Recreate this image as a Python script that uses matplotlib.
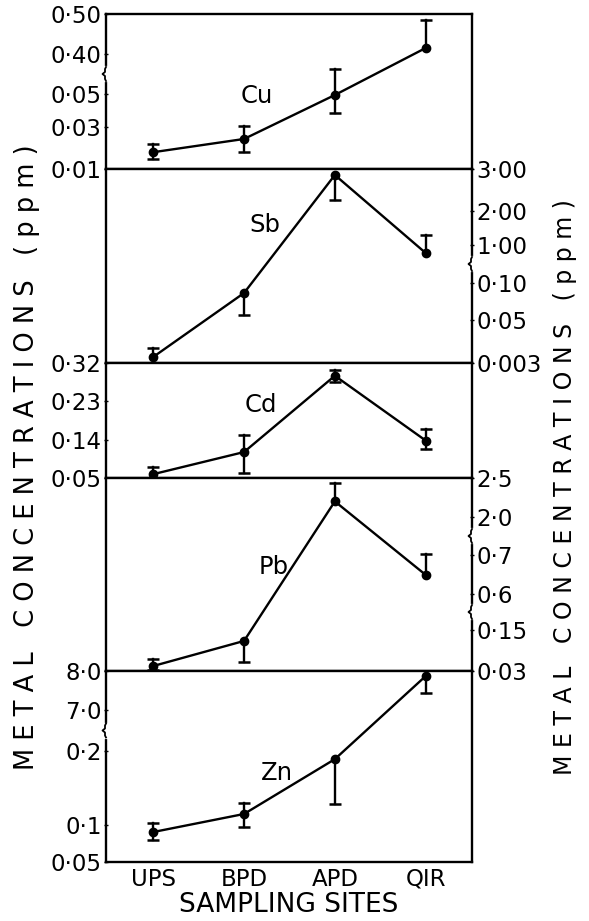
import numpy as np
import matplotlib
matplotlib.use("Agg")
import matplotlib.pyplot as plt
from matplotlib.ticker import NullLocator

# ---------------- data ----------------
sites = ["UPS", "BPD", "APD", "QIR"]

cu_mean = [0.018, 0.0243, 0.0494, 0.415]
cu_low = [0.0148, 0.0181, 0.0385, 0.415]
cu_high = [0.0219, 0.0306, 0.269, 0.485]
cu_ticks = [0.01, 0.03, 0.05, 0.40, 0.50]
cu_ticklabels = ["0·01", "0·03", "0·05", "0·40", "0·50"]

sb_mean = [0.0096, 0.0865, 2.857, 0.81]
sb_low = [0.0096, 0.0568, 2.26, 0.81]
sb_high = [0.0194, 0.0865, 2.857, 1.29]
sb_ticks = [0.003, 0.05, 0.10, 1.00, 2.00, 3.00]
sb_ticklabels = ["0·003", "0·05", "0·10", "1·00", "2·00", "3·00"]

cd_mean = [0.059, 0.111, 0.290, 0.138]
cd_low = [0.050, 0.062, 0.276, 0.117]
cd_high = [0.0756, 0.152, 0.304, 0.164]
cd_ticks = [0.05, 0.14, 0.23, 0.32]
cd_ticklabels = ["0·05", "0·14", "0·23", "0·32"]

pb_mean = [0.0446, 0.118, 2.20, 0.649]
pb_low = [0.034, 0.056, 2.20, 0.649]
pb_high = [0.065, 0.118, 2.44, 0.734]
pb_ticks = [0.03, 0.15, 0.6, 0.7, 2.0, 2.5]
pb_ticklabels = ["0·03", "0·15", "0·6", "0·7", "2·0", "2·5"]

zn_mean = [0.0905, 0.1149, 0.189, 7.87]
zn_low = [0.0797, 0.0973, 0.128, 7.44]
zn_high = [0.1026, 0.1297, 0.189, 7.87]
zn_ticks = [0.05, 0.1, 0.2, 7.0, 8.0]
zn_ticklabels = ["0·05", "0·1", "0·2", "7·0", "8·0"]

metals = ["Cu", "Sb", "Cd", "Pb", "Zn"]
y_label = "METAL CONCENTRATIONS (ppm)"
x_label = "SAMPLING SITES"

# ---------------- layout (pixels) ----------------
W, H = 589, 921
AX_L, AX_R = 106, 472
tops = [14, 169, 363, 478, 671]
bottoms = [169, 363, 478, 671, 862]
# tick positions (pixels above panel bottom) of the broken axes
tick_pos = [
    [0, 42, 75, 115, 155],
    [0, 43, 80, 118, 152, 194],
    [0, 38.3, 76.7, 115],
    [0, 41, 77, 116, 154, 193],
    [0, 37, 111, 152, 191],
]
sides = ["left", "right", "left", "right", "left"]
breaks = [[2], [2], [], [1, 3], [2]]   # break between tick i and i+1
name_xy = [(0.413, 0.471), (0.434, 0.711), (0.423, 0.635),
           (0.459, 0.539), (0.467, 0.466)]

panels = [
    (cu_mean, cu_low, cu_high, cu_ticks, cu_ticklabels),
    (sb_mean, sb_low, sb_high, sb_ticks, sb_ticklabels),
    (cd_mean, cd_low, cd_high, cd_ticks, cd_ticklabels),
    (pb_mean, pb_low, pb_high, pb_ticks, pb_ticklabels),
    (zn_mean, zn_low, zn_high, zn_ticks, zn_ticklabels),
]

plt.rcParams["font.family"] = ["DejaVu Sans"]
fig = plt.figure(figsize=(W / 100, H / 100), dpi=100)
LW = 1.7

for k, (mean, low, high, ticks, tlabels) in enumerate(panels):
    t, b = tops[k], bottoms[k]
    ax = fig.add_axes([AX_L / W, 1 - b / H, (AX_R - AX_L) / W, (b - t) / H])
    pos = tick_pos[k]

    def fwd(v, ticks=ticks, pos=pos):
        return np.interp(v, ticks, pos)

    def inv(p, ticks=ticks, pos=pos):
        return np.interp(p, pos, ticks)

    ax.set_yscale("function", functions=(fwd, inv))
    ax.set_ylim(ticks[0], ticks[-1])
    ax.set_xlim(-0.52, 3.51)

    x = np.arange(len(sites))
    ax.plot(x, mean, "-", color="black", lw=LW, zorder=3)
    ax.plot(x, mean, "o", color="black", ms=6, zorder=4)
    for xi, m, lo, hi in zip(x, mean, low, high):
        for end in (lo, hi):
            if abs(end - m) > 1e-12:
                ax.plot([xi, xi], [m, end], color="black", lw=LW, zorder=3)
                ax.plot([xi], [end], marker="_", ms=9, mew=1.8,
                        color="black", zorder=3)

    ax.set_yticks(ticks)
    ax.set_yticklabels(tlabels)
    ax.yaxis.set_minor_locator(NullLocator())
    if sides[k] == "right":
        ax.yaxis.tick_right()
    ax.tick_params(axis="y", length=3, width=1.0, direction="inout",
                   labelsize=16.5, pad=1.5)
    ax.set_xticks(x)
    if k == len(panels) - 1:
        ax.set_xticklabels(sites)
        ax.tick_params(axis="x", length=0, labelsize=16.5, pad=4)
        ax.set_xlabel(x_label, fontsize=19, labelpad=1)
    else:
        ax.tick_params(axis="x", length=0, labelbottom=False)
    for sp in ax.spines.values():
        sp.set_linewidth(LW)

    ax.text(name_xy[k][0], name_xy[k][1], metals[k], transform=ax.transAxes,
            ha="center", va="center", fontsize=17.5)

    # axis-break marks on the labelled spine
    axw, axh = AX_R - AX_L, b - t
    sx = 0.0 if sides[k] == "left" else 1.0
    for i in breaks[k]:
        f = (pos[i] + pos[i + 1]) / 2 / pos[-1]
        ax.plot([sx, sx], [f - 6 / axh, f + 6 / axh], color="white",
                lw=3, transform=ax.transAxes, clip_on=False, zorder=5)
        pts = np.array([(0, 7), (-1, 5), (-1, 2), (-3.5, 0), (-1, -2),
                        (-1, -5), (0, -7)], dtype=float)
        ax.plot(sx + pts[:, 0] / axw, f + pts[:, 1] / axh, color="black",
                lw=1.3, transform=ax.transAxes, clip_on=False, zorder=6)

spaced = " ".join(c for c in y_label.replace(" ", "_")).replace(" _ ", "   ")
fig.text(27 / W, 1 - 457 / H, spaced, rotation=90, ha="center", va="center",
         fontsize=18.5)
fig.text(565 / W, 1 - 487 / H, spaced, rotation=90, ha="center", va="center",
         fontsize=17)

fig.savefig("out.png", dpi=100, facecolor="white")
